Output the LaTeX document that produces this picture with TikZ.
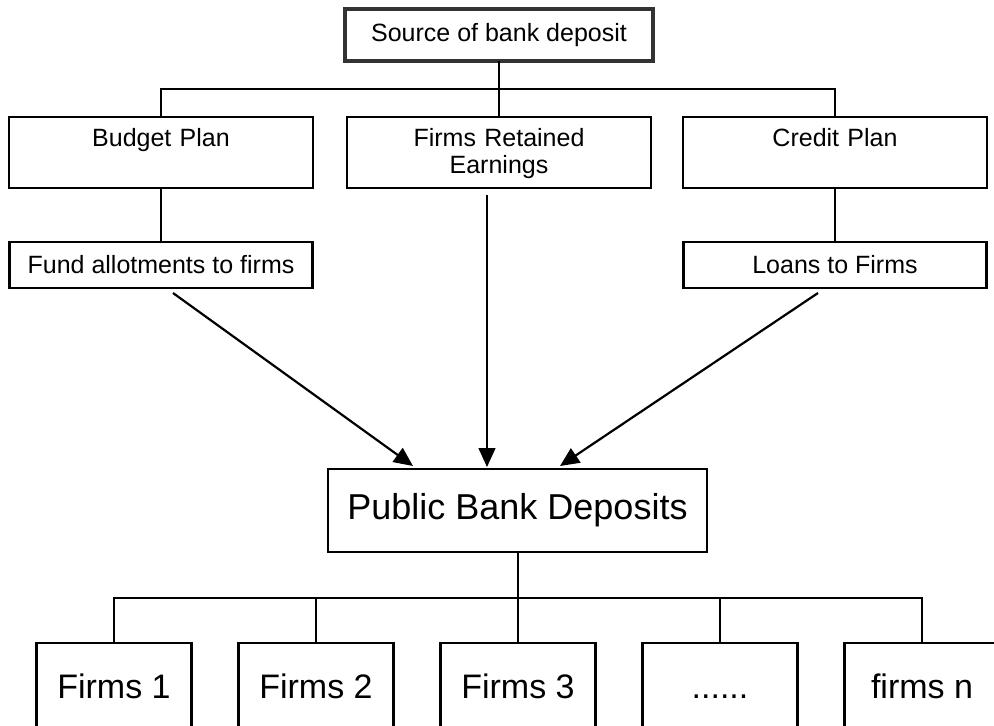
\documentclass[tikz,border=0pt]{standalone}
\usepackage{fontspec}
\setmainfont{Liberation Sans}
\usetikzlibrary{arrows.meta, positioning, calc}
\tikzset{>={Triangle[length=19pt,width=17pt]}}

\begin{document}
\begin{tikzpicture}[
  x=1pt, y=-1pt,
  box/.style={draw,line width=2.2pt,inner sep=0pt,outer sep=0pt,font=\fontsize{25}{27}\selectfont},
  plan/.style={box,anchor=north,minimum width=304pt,text width=290pt,align=center,
    text height=18pt,text depth=31pt,inner ysep=11pt},
  step2/.style={box,minimum width=303pt,minimum height=46pt},
  firm/.style={box,anchor=north,minimum width=155pt,minimum height=86pt,
    text height=24.5pt,text depth=0pt,font=\fontsize{34}{40}\selectfont},
  link/.style={line width=2pt},
  flow/.style={->,line width=2.2pt}
]
  \useasboundingbox (0,0) rectangle (994,726);
  \clip (0,0) rectangle (994,726);

  % Nodes
  \node[box,draw=black!80,line width=4.5pt,minimum width=308pt,minimum height=52pt] (src) at (499,35) {Source of bank deposit};
  \node[plan] (budget) at (161,117) {Budget Plan};
  \node[plan, right=34pt of budget] (retained) {Firms Retained\\Earnings};
  \node[plan, right=32pt of retained] (credit) {Credit Plan};
  \node[step2, below=54pt of budget] (fund) {Fund allotments to firms};
  \node[step2, below=54pt of credit] (loans) {Loans to Firms};
  \node[box,minimum width=379pt,minimum height=83pt,font=\fontsize{36}{40}\selectfont] (public) at (517.5,510.5) {Public Bank Deposits};
  \node[firm] (f1) at (114,643) {Firms 1};
  \node[firm, right=47pt of f1] (f2) {Firms 2};
  \node[firm, right=47pt of f2] (f3) {Firms 3};
  \node[firm, right=47pt of f3] (f4) {......};
  \node[firm, right=47pt of f4] (fn) {firms n};

  % Tree lines
  \coordinate (hubtop) at ($(src.south)+(0,28)$);
  \draw[link] (src.south) -- (hubtop);
  \draw[link] (budget.north) |- (hubtop) -| (credit.north);
  \draw[link] (hubtop -| retained.north) -- (retained.north);
  \draw[link] (budget.south) -- (fund.north);
  \draw[link] (credit.south) -- (loans.north);

  \coordinate (hubbot) at ($(public.south)+(0,46)$);
  \draw[link] (public.south) -- (hubbot);
  \draw[link] (f1.north) |- (hubbot) -| (fn.north);
  \draw[link] (hubbot -| f2.north) -- (f2.north);
  \draw[link] (hubbot -| f3.north) -- (f3.north);
  \draw[link] (hubbot -| f4.north) -- (f4.north);

  % Flows into deposits
  \draw[flow] ($(fund.south)+(12,5)$) -- ($(public.north west)+(85,-3)$);
  \draw[flow, line width=1.3pt] ($(retained.south)+(-12,7)$) -- ($(public.north)+(-30.5,-2)$);
  \draw[flow] ($(loans.south)+(-17,5)$) -- ($(public.north)+(42.5,-3)$);
\end{tikzpicture}
\end{document}
